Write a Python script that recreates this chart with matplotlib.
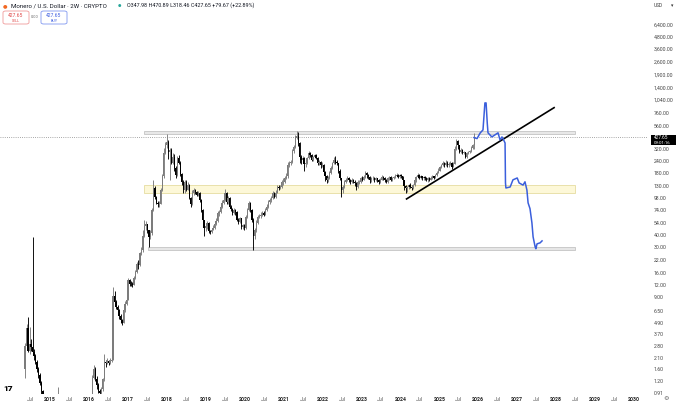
import numpy as np
import pandas as pd
import matplotlib
matplotlib.use("Agg")
import matplotlib.pyplot as plt
import matplotlib.dates as mdates
from matplotlib.patches import Rectangle, FancyBboxPatch

plt.rcParams['font.family'] = ['Roboto', 'DejaVu Sans']

# --- XMR/USD 2W candles ---
first_open = 1.6
start_date = "2014-05-12"

closes = [
    # 2014
    2.8, 4.3, 2.5, 2.9, 2.7, 2.4, 2.2, 1.9, 1.6, 1.4, 1.15, 0.95, 0.75, 0.6, 0.5, 0.45, 0.42,
    # 2015
    0.40, 0.38, 0.45, 0.52, 0.60, 0.75, 0.70, 0.62, 0.55, 0.50, 0.52, 0.60, 0.62, 0.58, 0.55, 0.50,
    0.48, 0.45, 0.50, 0.55, 0.52, 0.50, 0.47, 0.45, 0.46, 0.48,
    # 2016
    0.55, 0.70, 1.30, 1.60, 1.25, 1.10, 0.95, 0.90, 1.00, 1.25, 1.90, 1.85, 1.95, 1.85, 1.95, 2.00,
    9.30, 8.00, 7.20, 6.60, 5.80, 5.20, 4.90, 6.60, 7.60, 8.50,
    # 2017
    13.5, 12.5, 12.4, 12.2, 14.5, 16.5, 20.0, 19.5, 26.0, 28.0, 39.0, 50.0, 52.0, 45.0, 38.0, 42.0,
    74.0, 125, 101, 88.0, 84.0, 86.0, 119, 165, 290, 350,
    # 2018
    375, 295, 310, 230, 265, 200, 170, 255, 230, 175, 145, 120, 145, 120, 134, 99, 84, 111, 119, 114,
    106, 111, 94, 74, 58, 48,
    # 2019
    50, 54, 44, 43, 46, 48, 52, 56, 68, 70, 80, 88, 94, 112, 90, 98, 80, 75, 69, 74, 70, 58, 55, 60, 49, 51,
    # 2020
    48, 62, 74, 87, 74, 58, 39, 45, 54, 62, 63, 66, 69, 66, 74, 80, 89, 94, 98, 111, 101, 112, 128, 125,
    128, 145,
    # 2021
    146, 160, 165, 218, 228, 232, 305, 335, 420, 440, 370, 265, 245, 258, 225, 228, 258, 290, 277, 245,
    264, 277, 258, 228, 234, 215,
    # 2022
    218, 184, 165, 152, 159, 180, 203, 228, 245, 235, 228, 190, 158, 118, 128, 145, 152, 158, 152, 145,
    152, 145, 141, 128, 145, 145,
    # 2023
    158, 152, 163, 180, 170, 163, 150, 158, 159, 150, 158, 151, 145, 152, 163, 158, 150, 145, 157, 163,
    152, 158, 163, 168, 171, 163,
    # 2024
    171, 165, 150, 130, 125, 128, 134, 128, 125, 134, 150, 163, 171, 160, 165, 158, 163, 158, 152, 159,
    152, 160, 165, 160, 171, 180,
    # 2025
    190, 205, 218, 228, 215, 230, 215, 225, 228, 208, 225, 320, 390, 350, 300, 312, 290, 298, 264, 290,
    298, 305, 330, 347.98, 427.65,
]

highs = [
    3.0, 4.7, 5.6, 4.4, 3.3, 38, 2.6, 2.3, 2.0, 1.7, 1.45, 1.2, 0.98, 0.8, 0.65, 0.55, 0.5,
    0.46, 0.44, 0.50, 0.60, 0.72, 1.05, 0.85, 0.74, 0.65, 0.58, 0.60, 0.68, 0.70, 0.66, 0.62, 0.58,
    0.54, 0.50, 0.56, 0.62, 0.60, 0.56, 0.53, 0.50, 0.52, 0.55,
    0.62, 0.82, 1.40, 1.75, 1.70, 1.35, 1.15, 1.00, 1.05, 1.30, 2.30, 2.00, 2.10, 2.00, 2.10, 2.20,
    11.5, 10.4, 8.40, 7.50, 6.80, 6.00, 5.40, 6.90, 8.20, 9.00,
    14.5, 14.0, 13.2, 13.0, 15.0, 17.5, 21.0, 22.0, 27.0, 30.0, 45.0, 58.0, 56.0, 53.0, 46.0, 45.0,
    78.0, 152, 130, 104, 92.0, 92.0, 124, 175, 330, 380,
    455, 400, 330, 330, 290, 280, 210, 270, 275, 240, 180, 150, 150, 150, 145, 136, 100, 118, 125, 122,
    116, 115, 114, 95, 76, 58,
    53, 57, 55, 46, 48, 51, 55, 60, 72, 74, 84, 94, 100, 122, 114, 102, 100, 82, 77, 77, 76, 71, 60, 62, 61, 53,
    52, 65, 78, 92, 90, 76, 60, 48, 58, 66, 67, 70, 72, 71, 77, 84, 94, 98, 103, 116, 113, 118, 133, 135,
    134, 152,
    158, 166, 178, 232, 240, 245, 320, 350, 445, 495, 480, 380, 275, 270, 262, 240, 265, 305, 300, 282,
    272, 285, 282, 262, 245, 240,
    232, 222, 188, 170, 166, 186, 210, 236, 262, 268, 245, 230, 195, 160, 135, 150, 160, 166, 162, 155,
    158, 154, 150, 145, 150, 150,
    163, 165, 170, 188, 185, 176, 166, 162, 166, 162, 164, 160, 154, 158, 170, 168, 162, 155, 162, 168,
    166, 163, 168, 174, 178, 174,
    176, 175, 168, 152, 135, 132, 138, 140, 133, 138, 156, 168, 178, 174, 170, 168, 167, 166, 162, 162,
    162, 165, 170, 168, 176, 186,
    200, 212, 225, 240, 235, 245, 238, 232, 238, 232, 232, 345, 410, 395, 355, 325, 318, 305, 300, 296,
    305, 315, 340, 360, 470.89,
]

lows = [
    1.3, 2.7, 2.4, 2.3, 2.5, 2.3, 2.0, 1.8, 1.5, 1.3, 1.1, 0.85, 0.6, 0.5, 0.4, 0.38, 0.36,
    0.34, 0.33, 0.37, 0.44, 0.50, 0.58, 0.62, 0.55, 0.50, 0.45, 0.46, 0.50, 0.55, 0.52, 0.50, 0.45,
    0.42, 0.40, 0.42, 0.48, 0.47, 0.45, 0.42, 0.40, 0.41, 0.43,
    0.46, 0.55, 0.68, 1.25, 1.20, 1.00, 0.90, 0.85, 0.85, 0.95, 1.20, 1.70, 1.80, 1.75, 1.80, 1.90,
    2.00, 7.50, 6.80, 6.20, 5.40, 4.90, 4.60, 4.80, 6.40, 7.40,
    8.4, 11.8, 11.8, 11.5, 12.0, 14.0, 16.0, 18.0, 19.0, 25.0, 27.0, 38.0, 45.0, 42.0, 30.0, 37.0,
    40.0, 72.0, 95.0, 84.0, 80.0, 80.0, 84.0, 115, 160, 280,
    330, 250, 150, 220, 220, 190, 160, 165, 220, 165, 135, 110, 112, 115, 118, 95, 80, 82, 105, 108,
    102, 103, 90, 70, 52, 39,
    44, 47, 42, 41, 42, 45, 47, 51, 55, 64, 68, 78, 85, 92, 86, 85, 77, 72, 66, 67, 65, 56, 53, 54, 47, 47,
    45, 47, 60, 72, 70, 55, 28, 37, 43, 52, 60, 61, 64, 63, 65, 72, 78, 85, 90, 96, 98, 99, 110, 120,
    122, 126,
    135, 142, 155, 160, 205, 215, 228, 290, 330, 405, 340, 230, 220, 235, 190, 205, 222, 250, 262, 238,
    240, 255, 250, 215, 215, 200,
    205, 175, 148, 140, 145, 155, 176, 198, 222, 225, 215, 180, 150, 101, 112, 125, 140, 148, 146, 138,
    142, 140, 132, 118, 125, 138,
    142, 148, 150, 160, 160, 155, 140, 145, 152, 143, 148, 146, 138, 140, 150, 152, 146, 140, 142, 152,
    148, 149, 154, 158, 162, 158,
    160, 158, 145, 118, 110, 114, 122, 124, 118, 122, 130, 146, 158, 155, 155, 152, 153, 150, 148, 146,
    148, 150, 155, 156, 158, 168,
    178, 186, 200, 212, 205, 212, 205, 208, 215, 198, 205, 220, 315, 320, 290, 290, 280, 282, 255, 260,
    280, 290, 298, 318, 318.46,
]

# hand drawn projection (blue)
proj_dates = ["2025-11-22", "2025-12-20", "2026-01-19", "2026-02-14", "2026-03-04", "2026-03-15",
              "2026-03-26", "2026-04-02", "2026-05-08", "2026-06-06", "2026-07-05", "2026-07-24",
              "2026-08-11", "2026-08-22", "2026-09-09", "2026-09-13", "2026-09-17", "2026-10-27",
              "2026-11-22", "2027-01-01", "2027-01-19", "2027-02-25", "2027-03-15", "2027-04-02",
              "2027-04-13", "2027-05-01", "2027-05-19", "2027-05-30", "2027-06-18", "2027-06-25",
              "2027-07-06", "2027-08-04", "2027-08-22"]
proj_prices = [420, 410, 470, 505, 967, 967, 596, 471, 427, 448, 471, 397, 427, 407, 369, 141, 125,
               128, 152, 159, 141, 134, 145, 119, 87.4, 76, 54, 38.6, 30.4, 29, 32.6, 33.4, 35]

# zones and trend line
zone_start = ["2017-06-01", "2017-06-01", "2017-07-09"]
zone_end = "2028-06-27"
zone_low = [462, 110, 28.1]
zone_high = [495, 134, 30.0]
zone_fill = ["#e8e8e8", "#fdf8d8", "#e6e6e6"]
zone_edge = ["#c4c4c4", "#e6dca0", "#c4c4c4"]
trend_dates = ["2024-02-28", "2027-12-13"]
trend_prices = [96, 863]

last_price = 427.65
price_ticks = [0.91, 1.2, 1.6, 2.1, 2.8, 3.7, 4.9, 6.5, 9, 12, 16, 22, 30, 40, 54, 74, 98, 130, 180,
               240, 320, 560, 760, 1040, 1400, 1900, 2600, 3600, 4800, 6400]

W, H = 680, 405
fig = plt.figure(figsize=(W / 100, H / 100), dpi=100)
fig.patch.set_facecolor("white")
ax = fig.add_axes([0, 11 / H, 648 / W, 394 / H])

dates = pd.date_range(start_date, periods=len(closes), freq="14D")
x = mdates.date2num(dates)
c = np.array(closes)
o = np.r_[first_open, c[:-1]]
hi = np.array(highs)
lo = np.array(lows)
up = c >= o
col = np.where(up, "#7c7c7c", "#000000")

ax.vlines(x, lo, hi, colors=col, lw=0.65, zorder=3)
ax.bar(x, np.abs(c - o), bottom=np.minimum(o, c), width=12, color=col, linewidth=0, zorder=4)

for s, lw_, hi_, fc, ec in zip(zone_start, zone_low, zone_high, zone_fill, zone_edge):
    x0 = mdates.datestr2num(s)
    x1 = mdates.datestr2num(zone_end)
    ax.add_patch(Rectangle((x0, lw_), x1 - x0, hi_ - lw_, facecolor=fc, edgecolor=ec,
                           lw=0.6, zorder=1))

ax.plot(mdates.datestr2num(trend_dates), trend_prices, color="black", lw=1.2, zorder=5)
ax.plot(mdates.datestr2num(proj_dates), proj_prices, color="#3b5fdc", lw=1.1, zorder=5)
ax.axhline(last_price, color="#8a8a8a", lw=0.6, ls=(0, (1, 1.6)), zorder=2)

ax.set_yscale("log")
ax.set_ylim(0.88, 11500)
ax.set_xlim(mdates.datestr2num("2013-09-19"), mdates.datestr2num("2030-05-12"))
for sp in ax.spines.values():
    sp.set_visible(False)

ax.yaxis.tick_right()
ax.set_yticks(price_ticks, labels=[f"{v:,.2f}" for v in price_ticks])
ax.yaxis.set_minor_locator(matplotlib.ticker.NullLocator())
ax.tick_params(axis="y", length=0, pad=4.3, labelsize=3.7, labelcolor="#444444")

years = list(range(2015, 2031))
ax.set_xticks(mdates.datestr2num([f"{y}-01-01" for y in years]),
              labels=[str(y) for y in years])
ax.set_xticks(mdates.datestr2num([f"{y}-07-01" for y in range(2014, 2030)]),
              labels=["Jul"] * 16, minor=True)
ax.tick_params(axis="x", which="both", length=0, pad=2.5, labelsize=3.7)
ax.tick_params(axis="x", which="major", labelcolor="#222222")
ax.tick_params(axis="x", which="minor", labelcolor="#555555")
for t in ax.get_xticklabels():
    t.set_fontweight("bold")


def ftext(px, py, s, **kw):
    fig.text(px / W, 1 - py / H, s, **kw)


def fbox(x0, y0, x1, y1, **kw):
    fig.add_artist(FancyBboxPatch((x0 / W, 1 - y1 / H), (x1 - x0) / W, (y1 - y0) / H,
                                  boxstyle="round,pad=0,rounding_size=0.004",
                                  transform=fig.transFigure, **kw))


# header
ftext(5, 5.5, "●", color="#f26822", fontsize=3.8, ha="center", va="center",
      family=["DejaVu Sans"])
ftext(11, 5.5, "Monero / U.S. Dollar · 2W · CRYPTO", color="#131722", fontsize=4.4, va="center")
ftext(119, 5.5, "●", color="#26a69a", fontsize=2.8, ha="center", va="center",
      family=["DejaVu Sans"])
ftext(127, 5.5, "O347.98 H470.89 L318.46 C427.65 +79.67 (+22.89%)", color="#131722",
      fontsize=3.9, va="center")
fbox(3, 11, 29, 24, facecolor="white", edgecolor="#f09a9a", lw=0.6)
ftext(16, 15.5, "427.65", color="#e04848", fontsize=3.6, ha="center", va="center")
ftext(16, 21, "SELL", color="#e04848", fontsize=2.7, ha="center", va="center")
ftext(35, 17.5, "0.00", color="#666666", fontsize=2.8, ha="center", va="center")
fbox(41, 11, 67, 24, facecolor="white", edgecolor="#7f96f0", lw=0.6)
ftext(54, 15.5, "427.65", color="#3d5ee0", fontsize=3.6, ha="center", va="center")
ftext(54, 21, "BUY", color="#3d5ee0", fontsize=2.7, ha="center", va="center")

# price scale extras
ftext(654, 5.5, "USD", color="#333333", fontsize=3.4, va="center")
ftext(671, 5.5, "▾", color="#333333", fontsize=3.4, va="center", family=["DejaVu Sans"])
fig.add_artist(Rectangle((651 / W, 1 - 145 / H), 25 / W, 10.5 / H, facecolor="black",
                         edgecolor="none", transform=fig.transFigure))
ftext(654, 137.6, "427.65", color="white", fontsize=3.4, va="center")
ftext(654, 142.6, "09:01:16", color="white", fontsize=3.2, va="center")
ftext(666, 399, "⚙", color="#666666", fontsize=4.5, ha="center", va="center",
      family=["DejaVu Sans"])

# logo
ftext(3, 388.5, "17", color="black", fontsize=6, fontweight="heavy", va="center")

fig.savefig("out.png", dpi=100)
